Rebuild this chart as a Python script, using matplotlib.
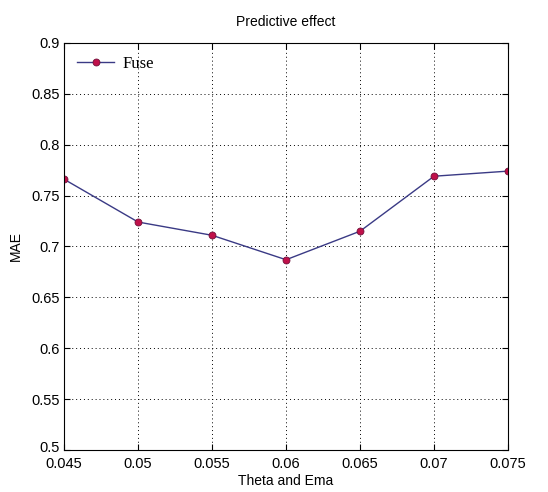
import matplotlib
matplotlib.use("Agg")
import matplotlib.pyplot as plt
import matplotlib.transforms as mtransforms

# data
theta = [0.045, 0.05, 0.055, 0.06, 0.065, 0.07, 0.075]
mae = [0.766, 0.724, 0.711, 0.687, 0.715, 0.769, 0.774]
x_ticks = [0.045, 0.05, 0.055, 0.06, 0.065, 0.07, 0.075]
x_labels = ["0.045", "0.05", "0.055", "0.06", "0.065", "0.07", "0.075"]
y_ticks = [0.5, 0.55, 0.6, 0.65, 0.7, 0.75, 0.8, 0.85, 0.9]
y_labels = ["0.5", "0.55", "0.6", "0.65", "0.7", "0.75", "0.8", "0.85", "0.9"]

plt.rcParams['font.family'] = ['Liberation Sans', 'DejaVu Sans']

fig = plt.figure(figsize=(5.48, 4.92), dpi=100)
ax = fig.add_axes([0.117, 0.085, 0.81, 0.828])

ax.plot(theta, mae, color='#3a3a85', linewidth=1.0, marker='o', markersize=5,
        markerfacecolor='#c0104a', markeredgecolor='#70103a', markeredgewidth=0.6,
        label='Fuse')

ax.set_xlim(0.045, 0.075)
ax.set_ylim(0.5, 0.9)
ax.set_xticks(x_ticks)
ax.set_xticklabels(x_labels)
ax.set_yticks(y_ticks)
ax.set_yticklabels(y_labels)
ax.tick_params(direction='in', top=True, right=True, labelsize=10.5, length=4)
ax.tick_params(axis='x', pad=5)
ax.tick_params(axis='y', pad=3)
ax.grid(True, linestyle=(0, (1, 3)), color='black', linewidth=0.7)

# nudge the bottom y label up a little so it clears 0.045
lbl = ax.get_yticklabels()[0]
lbl.set_transform(lbl.get_transform() + mtransforms.ScaledTranslation(0, 3 / 72, fig.dpi_scale_trans))

ax.set_xlabel('Theta and Ema', fontsize=10, labelpad=2)
ax.set_ylabel('MAE', fontsize=10, labelpad=6)
ax.set_title('Predictive effect', fontsize=10, pad=12)

ax.legend(loc='upper left', frameon=False, prop={'family': 'Liberation Serif', 'size': 12},
          handlelength=2.2, handletextpad=0.5, borderaxespad=0.5, borderpad=0.3)

fig.savefig('out.png', dpi=100)
